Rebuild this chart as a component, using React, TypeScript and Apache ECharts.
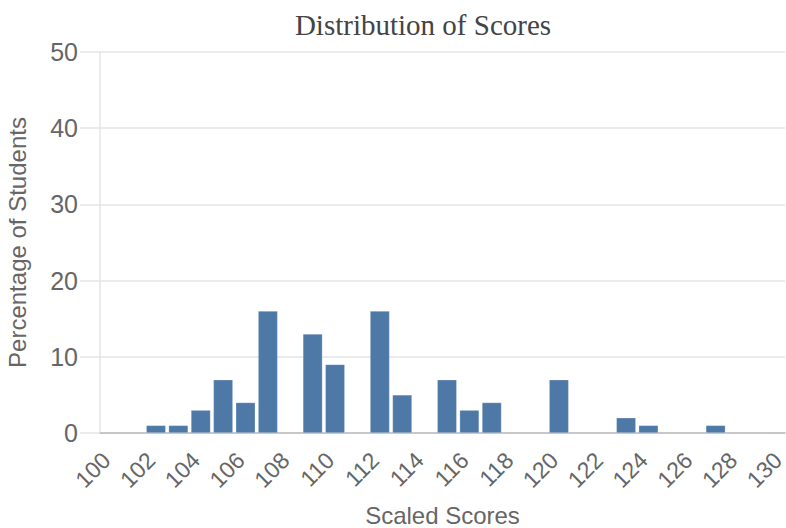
import React, { useEffect, useRef } from "react";
import * as echarts from "echarts";

const scores = [102, 103, 104, 105, 106, 107, 109, 110, 112, 113, 115, 116, 117, 120, 123, 124, 127];
const percentages = [1, 1, 3, 7, 4, 16, 13, 9, 16, 5, 7, 3, 4, 7, 2, 1, 1];
const yTicks = [0, 10, 20, 30, 40, 50];

export default function App() {
  const ref = useRef<HTMLDivElement>(null);
  useEffect(() => {
    if (!ref.current) return;
    const chart = echarts.init(ref.current, null, { renderer: "svg" });
    const font = "'Liberation Sans', Arial, sans-serif";
    chart.setOption({
      animation: false,
      title: {
        text: "Distribution of Scores",
        left: 418,
        top: 5,
        textAlign: "center",
        textStyle: { fontFamily: "'Liberation Serif', 'Times New Roman', serif", fontSize: 29, fontWeight: "normal", color: "#444" },
      },
      grid: { left: 100, right: 1, top: 52, bottom: 95, containLabel: false, outerBoundsMode: "none" },
      xAxis: {
        type: "value",
        min: 100,
        max: 130.6,
        interval: 2,
        name: "Scaled Scores",
        nameLocation: "middle",
        nameGap: 70,
        nameTextStyle: { fontFamily: font, fontSize: 24, color: "#666", lineHeight: 24 },
        axisLine: { show: true, lineStyle: { color: "#bbb", width: 1.5 } },
        axisTick: { show: false },
        splitLine: { show: false },
        axisLabel: {
          rotate: 45,
          margin: 17,
          align: "right",
          verticalAlign: "top",
          lineHeight: 18,
          fontFamily: font,
          fontSize: 23,
          color: "#666",
          showMaxLabel: false,
          formatter: (v: number) => (v % 2 === 0 ? String(v) : ""),
        },
      },
      yAxis: {
        type: "value",
        min: yTicks[0],
        max: yTicks[yTicks.length - 1],
        interval: 10,
        name: "Percentage of Students",
        nameLocation: "middle",
        nameGap: 71,
        nameTextStyle: { fontFamily: font, fontSize: 24, color: "#666" },
        axisLine: { show: true, lineStyle: { color: "#e5e5e5", width: 1.5 } },
        axisTick: { show: true, length: 20, lineStyle: { color: "#e5e5e5", width: 1.5 } },
        splitLine: { show: true, lineStyle: { color: "#e5e5e5", width: 1.5 } },
        axisLabel: { margin: 22, fontFamily: font, fontSize: 25, color: "#666" },
      },
      series: [
        {
          type: "bar",
          barWidth: 19.5,
          data: scores.map((s, i) => [s + 0.5, percentages[i]]),
          itemStyle: { color: "#4e79a7", borderColor: "rgba(255,255,255,0.5)", borderWidth: 0.5 },
        },
      ],
    });
    return () => chart.dispose();
  }, []);
  return <div ref={ref} style={{ width: 786, height: 528, position: "absolute", left: 0, top: 0 }} />;
}
